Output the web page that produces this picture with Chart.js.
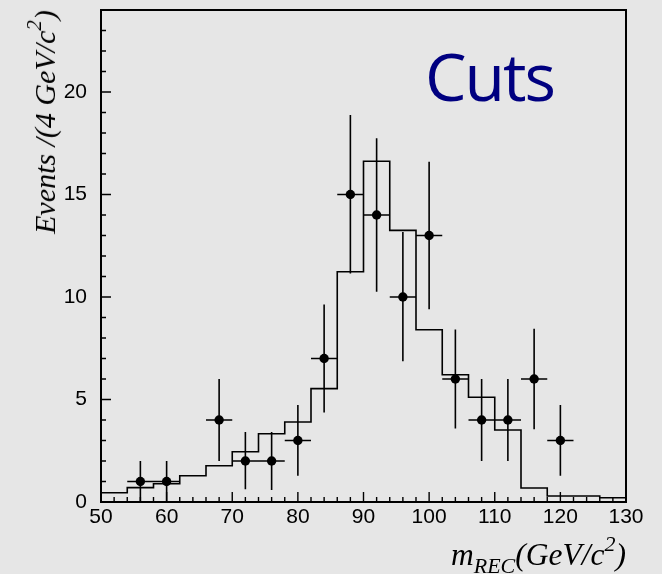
<!DOCTYPE html>
<html>
<head>
<meta charset="utf-8">
<script src="https://cdn.jsdelivr.net/npm/chart.js@4/dist/chart.umd.min.js"></script>
<style>
  html, body { margin: 0; padding: 0; background: #e6e6e6; }
  #wrap { position: relative; width: 662px; height: 574px; overflow: hidden; background: #e6e6e6; }
  #c { position: absolute; left: 0; top: 0; }
  .ttl { position: absolute; font-family: "Liberation Serif", "Times New Roman", serif; font-style: italic; font-size: 30px; line-height: 30px; color: #000; white-space: nowrap; }
  .ttl sub, .ttl sup { font-size: 21px; line-height: 0; position: relative; vertical-align: baseline; }
  .ttl sub { top: 8px; }
  .ttl sup { top: -14px; }
  #ytitle { left: 45px; top: 122px; transform: translate(-50%, -50%) rotate(-90deg); }
  #xtitle { right: 36px; top: 539px; font-size: 31.5px; line-height: 31.5px; }
  #xtitle sub, #xtitle sup { font-size: 22px; }
  #cuts { position: absolute; left: 425px; top: 30px; font-family: "Open Sans", "Noto Sans", sans-serif; font-size: 66px; line-height: 90px; color: #000080; letter-spacing: -2px; white-space: nowrap; }
</style>
</head>
<body>
<div id="wrap">
  <canvas id="c" width="662" height="574"></canvas>
  <div id="ytitle" class="ttl">Events /(4 GeV/c<sup>2</sup>)</div>
  <div id="xtitle" class="ttl">m<sub>REC</sub>(GeV/c<sup>2</sup>)</div>
  <div id="cuts">Cuts</div>
</div>
<script>
// ---- data ----
const binEdges = [50, 54, 58, 62, 66, 70, 74, 78, 82, 86, 90, 94, 98, 102, 106, 110, 114, 118, 122, 126, 130];
const mcValues = [0.45, 0.70, 0.89, 1.28, 1.77, 2.45, 3.33, 3.90, 5.53, 11.23, 16.62, 13.25, 8.40, 6.21, 5.11, 3.51, 0.68, 0.29, 0.29, 0.21];

const dataX = [56, 60, 68, 72, 76, 80, 84, 88, 92, 96, 100, 104, 108, 112, 116, 120];
const dataY = [1, 1, 4, 2, 2, 3, 7, 15, 14, 10, 13, 6, 4, 4, 6, 3];
const errUp = [1.0, 1.0, 2.0, 1.41, 1.41, 1.73, 2.64, 3.88, 3.74, 3.17, 3.6, 2.42, 2.0, 2.0, 2.45, 1.73];
const errDown = [1.0, 1.0, 2.0, 1.38, 1.41, 1.72, 2.64, 3.85, 3.74, 3.14, 3.6, 2.42, 2.0, 2.0, 2.45, 1.72];
const errX = [2, 2, 2, 2, 2, 2, 2, 2, 2, 2, 2, 2, 2, 2, 2, 2];

const xTickLabels = [50, 60, 70, 80, 90, 100, 110, 120, 130];
const xMinorTicks = [52, 54, 56, 58, 62, 64, 66, 68, 72, 74, 76, 78, 82, 84, 86, 88, 92, 94, 96, 98, 102, 104, 106, 108, 112, 114, 116, 118, 122, 124, 126, 128];
const yTickLabels = [0, 5, 10, 15, 20];
const yMinorTicks = [1, 2, 3, 4, 6, 7, 8, 9, 11, 12, 13, 14, 16, 17, 18, 19, 21, 22, 23];
const xRange = [50, 130];
const yRange = [0, 24];

// histogram as stepped line: left edges with values, plus closing point at last edge
const histPoints = binEdges.map((e, i) => ({ x: e, y: i < mcValues.length ? mcValues[i] : mcValues[mcValues.length - 1] }));
const dataPoints = dataX.map((x, i) => ({ x: x, y: dataY[i] }));

const decorPlugin = {
  id: 'decor',
  afterDatasetsDraw(chart) {
    const ctx = chart.ctx;
    const xs = chart.scales.x, ys = chart.scales.y;
    const a = chart.chartArea;
    ctx.save();
    ctx.strokeStyle = '#000';
    ctx.lineCap = 'butt';
    // error bars
    ctx.lineWidth = 1.6;
    ctx.beginPath();
    dataX.forEach((x, i) => {
      const px = xs.getPixelForValue(x);
      const py = ys.getPixelForValue(dataY[i]);
      ctx.moveTo(px, ys.getPixelForValue(Math.max(dataY[i] - errDown[i], yRange[0])));
      ctx.lineTo(px, ys.getPixelForValue(dataY[i] + errUp[i]));
      ctx.moveTo(xs.getPixelForValue(x - errX[i]), py);
      ctx.lineTo(xs.getPixelForValue(x + errX[i]), py);
    });
    ctx.stroke();
    // inward tick marks
    ctx.lineWidth = 1.4;
    ctx.beginPath();
    xTickLabels.forEach(v => { const p = xs.getPixelForValue(v); ctx.moveTo(p, a.bottom); ctx.lineTo(p, a.bottom - 10); });
    xMinorTicks.forEach(v => { const p = xs.getPixelForValue(v); ctx.moveTo(p, a.bottom); ctx.lineTo(p, a.bottom - 5); });
    yTickLabels.forEach(v => { const p = ys.getPixelForValue(v); ctx.moveTo(a.left, p); ctx.lineTo(a.left + 10, p); });
    yMinorTicks.forEach(v => { const p = ys.getPixelForValue(v); ctx.moveTo(a.left, p); ctx.lineTo(a.left + 5, p); });
    ctx.stroke();
    // frame
    ctx.lineWidth = 2;
    ctx.strokeRect(a.left, a.top, a.right - a.left, a.bottom - a.top);
    ctx.restore();
  }
};

new Chart(document.getElementById('c'), {
  type: 'scatter',
  data: {
    datasets: [
      {
        type: 'line',
        data: histPoints,
        stepped: 'before',
        borderColor: '#000',
        borderWidth: 1.6,
        pointRadius: 0,
        fill: false,
        order: 2
      },
      {
        type: 'scatter',
        data: dataPoints,
        pointRadius: 4.7,
        pointBackgroundColor: '#000',
        pointBorderWidth: 0,
        order: 1
      }
    ]
  },
  options: {
    responsive: false,
    devicePixelRatio: 1,
    animation: false,
    layout: { autoPadding: false, padding: { top: 10, right: 36, left: 0, bottom: 0 } },
    plugins: { legend: { display: false }, tooltip: { enabled: false } },
    scales: {
      x: {
        type: 'linear',
        min: xRange[0], max: xRange[1],
        grid: { display: false, drawTicks: false },
        border: { display: false },
        ticks: { color: '#000', font: { family: '"Liberation Sans", Arial, sans-serif', size: 21 }, padding: 3, maxRotation: 0, autoSkip: false },
        afterBuildTicks(s) { s.ticks = xTickLabels.map(v => ({ value: v })); },
        afterFit(s) { s.height = 72; s.paddingLeft = 0; s.paddingRight = 0; }
      },
      y: {
        type: 'linear',
        min: yRange[0], max: yRange[1],
        grid: { display: false, drawTicks: false },
        border: { display: false },
        ticks: { color: '#000', font: { family: '"Liberation Sans", Arial, sans-serif', size: 21 }, padding: 14, autoSkip: false },
        afterBuildTicks(s) { s.ticks = yTickLabels.map(v => ({ value: v })); },
        afterFit(s) { s.width = 101; s.paddingTop = 0; s.paddingBottom = 0; }
      }
    }
  },
  plugins: [decorPlugin]
});
</script>
</body>
</html>
